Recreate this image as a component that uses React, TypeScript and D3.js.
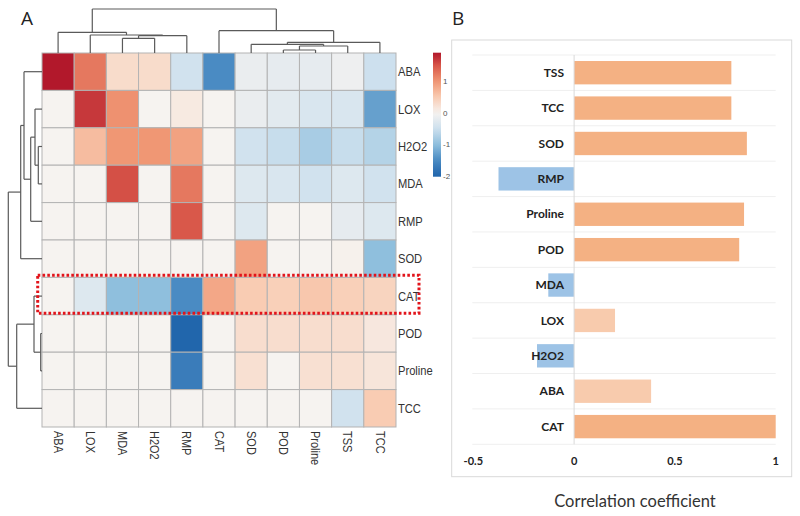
import React from "react";
import * as d3 from "d3";

// ---------- Panel A data ----------
const colNames = ["ABA", "LOX", "MDA", "H2O2", "RMP", "CAT", "SOD", "POD", "Proline", "TSS", "TCC"];
const rowNames = ["ABA", "LOX", "H2O2", "MDA", "RMP", "SOD", "CAT", "POD", "Proline", "TCC"];

const heatValues: number[][] = [
  [1.9, 1.25, 0.3, 0.3, -0.45, -1.5, -0.15, -0.2, -0.2, -0.1, -0.5],
  [0, 1.7, 1.05, 0, 0.12, 0, -0.15, -0.25, -0.35, -0.35, -1.3],
  [0, 0.65, 1.0, 1.0, 0.9, 0, -0.45, -0.55, -0.8, -0.55, -0.7],
  [0, 0, 1.55, 0, 1.25, 0, -0.3, -0.35, -0.45, -0.3, -0.45],
  [0, 0, 0, 0, 1.5, 0, -0.3, 0, 0, -0.2, -0.3],
  [0, 0, 0, 0, 0, 0, 0.9, 0, 0, 0.03, -1.0],
  [0, -0.3, -1.0, -1.0, -1.5, 0.85, 0.5, 0.45, 0.55, 0.45, 0.4],
  [0, 0, 0, 0, -2.0, 0, 0.28, 0.28, 0.28, 0.28, 0.15],
  [0, 0, 0, 0, -1.7, 0, 0.25, 0, 0.25, 0.25, 0.18],
  [0, 0, 0, 0, 0, 0, 0, 0, 0, -0.45, 0.5],
];

// hclust-like merges: [left, right, height]; strings are leaves, numbers refer to earlier merges
const colMerges: [string | number, string | number, number][] = [
  ["MDA", "H2O2", 14.7],
  [0, "RMP", 17.3],
  ["LOX", 1, 18],
  ["ABA", 2, 20.7],
  ["POD", "Proline", 3],
  [4, "TSS", 7],
  ["SOD", 5, 8.7],
  [6, "TCC", 10.7],
  ["CAT", 7, 22.3],
  [3, 8, 44],
];
const rowMerges: [string | number, string | number, number][] = [
  ["H2O2", "MDA", 3.7],
  ["LOX", 0, 7],
  [1, "RMP", 11.3],
  ["ABA", 2, 18],
  [3, "SOD", 21.3],
  ["POD", "Proline", 1.3],
  ["CAT", 5, 8],
  [6, "TCC", 25.3],
  [4, 7, 33.7],
];

const legendTicks = [1, 0, -1, -2];
const colorStops = [-2, -1.5, -1, -0.5, 0, 0.5, 1, 1.5, 1.9];
const colorRange = ["#2166ac", "#4a8bc3", "#8fbfdd", "#cde0ee", "#f6f3f0", "#f9ccb3", "#f09774", "#d9584a", "#b2182b"];

// ---------- Panel B data ----------
const barCats = ["TSS", "TCC", "SOD", "RMP", "Proline", "POD", "MDA", "LOX", "H2O2", "ABA", "CAT"];
const barValues = [0.78, 0.78, 0.857, -0.375, 0.843, 0.819, -0.128, 0.203, -0.184, 0.382, 1.0];
const lightCats = ["LOX", "ABA"];
const barTicks = [-0.5, 0, 0.5, 1];

// ---------- layout ----------
const HM = { left: 42, right: 396, top: 53, bottom: 427 };

function dendroSegments(
  merges: [string | number, string | number, number][],
  leafPos: (n: string) => number,
  hScale: (h: number) => number
) {
  const pos: { p: number; h: number }[] = [];
  const segs: { p1: number; h1: number; p2: number; h2: number }[] = [];
  const get = (c: string | number) => (typeof c === "string" ? { p: leafPos(c), h: 0 } : pos[c]);
  merges.forEach(([a, b, h]) => {
    const A = get(a);
    const B = get(b);
    segs.push({ p1: A.p, h1: A.h, p2: A.p, h2: h });
    segs.push({ p1: B.p, h1: B.h, p2: B.p, h2: h });
    segs.push({ p1: A.p, h1: h, p2: B.p, h2: h });
    pos.push({ p: (A.p + B.p) / 2, h });
  });
  return segs.map((s) => ({ p1: s.p1, v1: hScale(s.h1), p2: s.p2, v2: hScale(s.h2) }));
}

export default function App() {
  const x = d3.scaleBand<string>().domain(colNames).range([HM.left, HM.right]);
  const y = d3.scaleBand<string>().domain(rowNames).range([HM.top, HM.bottom]);
  const color = d3.scaleLinear<string>().domain(colorStops).range(colorRange).interpolate(d3.interpolateRgb).clamp(true);

  const colH = d3.scaleLinear().domain([0, 44]).range([HM.top, 9]);
  const rowH = d3.scaleLinear().domain([0, 33.7]).range([HM.left, 8.3]);
  const colSegs = dendroSegments(colMerges, (n) => x(n)! + x.bandwidth() / 2, colH);
  const rowSegs = dendroSegments(rowMerges, (n) => y(n)! + y.bandwidth() / 2, rowH);

  const legScale = d3.scaleLinear().domain([-2.03, 1.92]).range([176.7, 52.7]);
  const gradStops = d3.range(0, 1.0001, 0.05).map((t) => {
    const v = -2.03 + t * (1.92 + 2.03);
    return { off: t, c: color(v) };
  });

  // Panel B scales
  const bx = d3.scaleLinear().domain([-0.5, 1]).range([473.3, 775.7]);
  const by = d3.scaleBand<string>().domain(barCats).range([55, 444.3]).paddingInner(0.34).paddingOuter(0.17);
  const bandStep = (444.3 - 55) / barCats.length;
  const gridYs = d3.range(barCats.length + 1).map((i) => 55 + i * bandStep);

  const cellStroke = "#b3b3b3";

  return (
    <svg width={800} height={516} style={{ position: "absolute", left: 0, top: 0, background: "#fff" }} fontFamily="Liberation Sans, Arial, sans-serif">
      <defs>
        <linearGradient id="leg" x1="0" y1="1" x2="0" y2="0">
          {gradStops.map((s, i) => (
            <stop key={i} offset={s.off} stopColor={s.c} />
          ))}
        </linearGradient>
      </defs>
      <rect x={0} y={0} width={800} height={516} fill="#fff" />

      {/* Panel label A */}
      <text x={21} y={25} fontSize={19} fontFamily="Open Sans, sans-serif" fill="#222">A</text>

      {/* heatmap cells */}
      {rowNames.map((r, i) =>
        colNames.map((c, j) => (
          <rect key={r + c} x={x(c)} y={y(r)} width={x.bandwidth()} height={y.bandwidth()} fill={color(heatValues[i][j])} stroke={cellStroke} strokeWidth={1} />
        ))
      )}

      {/* dendrograms */}
      <g stroke="#5a5a5a" strokeWidth={1.2} fill="none">
        {colSegs.map((s, i) => (
          <line key={"c" + i} x1={s.p1} y1={s.v1} x2={s.p2} y2={s.v2} />
        ))}
        {rowSegs.map((s, i) => (
          <line key={"r" + i} x1={s.v1} y1={s.p1} x2={s.v2} y2={s.p2} />
        ))}
      </g>

      {/* row labels */}
      {rowNames.map((r) => (
        <text key={"rl" + r} x={398} y={y(r)! + y.bandwidth() / 2} dy="0.35em" fontSize={13} fill="#333" transform={`translate(398,0) scale(0.86,1) translate(-398,0)`}>
          {r}
        </text>
      ))}
      {/* column labels */}
      {colNames.map((c) => {
        const cx = x(c)! + x.bandwidth() / 2;
        return (
          <text key={"cl" + c} transform={`translate(${cx},431) rotate(90) scale(0.88,1)`} dy="0.35em" fontSize={12.5} fill="#333">
            {c}
          </text>
        );
      })}

      {/* legend */}
      <rect x={433} y={52.7} width={8} height={124} fill="url(#leg)" />
      {legendTicks.map((t) => (
        <text key={"lt" + t} x={443} y={legScale(t)} dy="0.35em" fontSize={8} fill="#555">
          {t}
        </text>
      ))}

      {/* highlight box */}
      <rect x={37.7} y={275.3} width={381.3} height={38} fill="none" stroke="#e2141b" strokeWidth={3} strokeDasharray="2.6,2.2" />

      {/* Panel B */}
      <text x={452} y={25} fontSize={19} fontFamily="Open Sans, sans-serif" fill="#222">B</text>
      <rect x={451.7} y={40} width={340} height={436.7} fill="#fff" stroke="#d9d9d9" strokeWidth={1} />
      {gridYs.map((gy, i) => (
        <line key={"g" + i} x1={472.3} x2={775.7} y1={gy} y2={gy} stroke="#efefef" strokeWidth={1} />
      ))}
      {barCats.map((c, i) => {
        const v = barValues[i];
        const fill = v < 0 ? "#9dc3e6" : lightCats.includes(c) ? "#f8cbad" : "#f4b183";
        return <rect key={"b" + c} x={bx(Math.min(0, v))} y={by(c)} width={Math.abs(bx(v) - bx(0))} height={by.bandwidth()} fill={fill} />;
      })}
      <line x1={bx(0)} x2={bx(0)} y1={55} y2={444.3} stroke="#d9d9d9" strokeWidth={1} />
      {barCats.map((c) => (
        <text key={"bl" + c} x={564} y={by(c)! + by.bandwidth() / 2} dy="0.35em" textAnchor="end" fontSize={12} fontWeight="bold" fontFamily="Lato, sans-serif" fill="#222">
          {c}
        </text>
      ))}
      {barTicks.map((t) => (
        <text key={"bt" + t} x={bx(t)} y={461} dy="0.35em" textAnchor="middle" fontSize={11} fontWeight="bold" fontFamily="Lato, sans-serif" fill="#222">
          {t}
        </text>
      ))}
      <text x={635} y={507} textAnchor="middle" fontSize={16.5} fontFamily="Lato, sans-serif" fill="#333">
        Correlation coefficient
      </text>
    </svg>
  );
}
